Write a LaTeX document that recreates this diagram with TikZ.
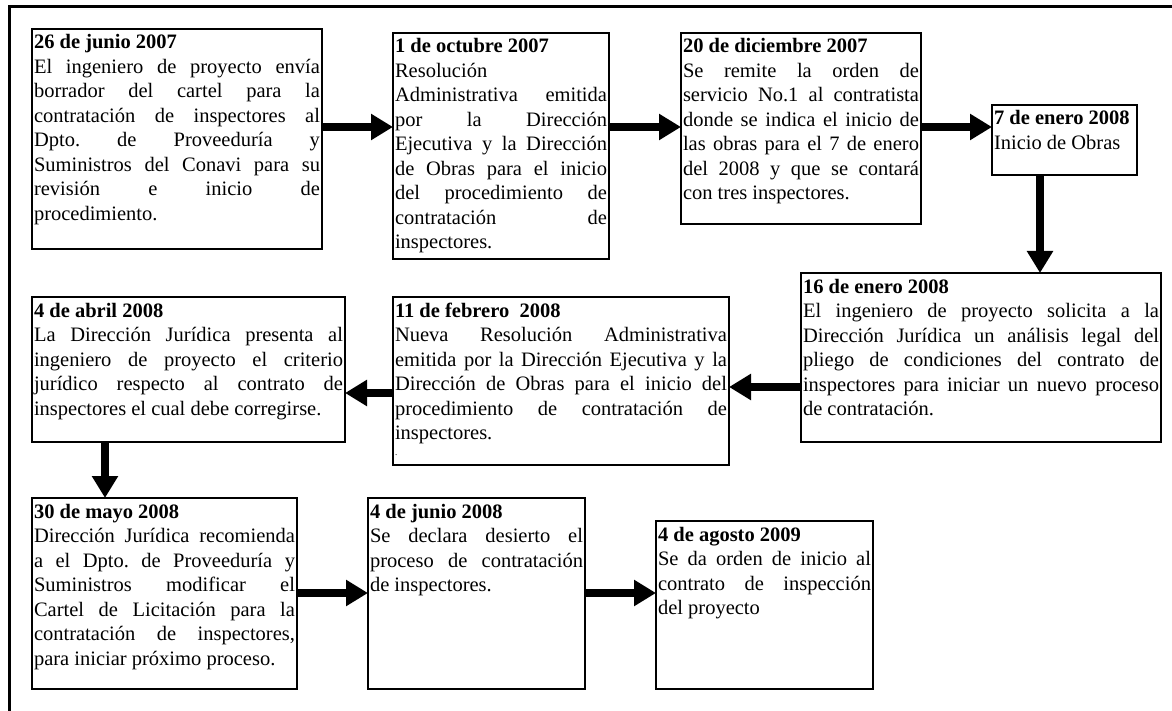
\documentclass[tikz,border=0pt]{standalone}
\usepackage{fontspec}
\setmainfont{Liberation Serif}
\usetikzlibrary{arrows.meta}
\frenchspacing
\newcommand\J[1]{\makebox[\linewidth][s]{#1}\par}
\newcommand\Ln[1]{#1\par}
\newcommand\hd[1]{\rule{0pt}{20pt}\textbf{#1}\par}
\tikzset{
  ev/.style={draw, line width=1.6pt, anchor=north west, inner xsep=2pt, inner ysep=0pt, outer sep=0pt,
    font=\fontsize{20.5pt}{24.5pt}\selectfont\frenchspacing},
  arr/.style={line width=8.5pt, -{Triangle[width=25pt,length=22pt]}},
  frame/.style={line width=3pt}
}
\begin{document}
\begin{tikzpicture}[x=1pt,y=-1pt]
\useasboundingbox (0,0) rectangle (1172,711);
\fill[white] (0,0) rectangle (1172,711);
\draw[frame] (9.5,711) -- (9.5,6.5) -- (1172,6.5);

\node[ev] (b1) at (32,29) {\parbox[c][220pt][t]{286pt}{%
\hd{26 de junio 2007}
\J{El ingeniero de proyecto envía}
\J{borrador del cartel para la}
\J{contratación de inspectores al}
\J{Dpto. de Proveeduría y}
\J{Suministros del Conavi para su}
\J{revisión e inicio de}
\Ln{procedimiento.}}};

\node[ev] (b2) at (393,33) {\parbox[c][226pt][t]{212pt}{%
\hd{1 de octubre 2007}
\Ln{Resolución}
\J{Administrativa emitida}
\J{por la Dirección}
\J{Ejecutiva y la Dirección}
\J{de Obras para el inicio}
\J{del procedimiento de}
\J{contratación de}
\Ln{inspectores.}}};

\node[ev] (b3) at (681,33) {\parbox[c][191pt][t]{236pt}{%
\hd{20 de diciembre 2007}
\J{Se remite la orden de}
\J{servicio No.1 al contratista}
\J{donde se indica el inicio de}
\J{las obras para el 7 de enero}
\J{del 2008 y que se contará}
\Ln{con tres inspectores.}}};

\node[ev] (b4) at (992,105) {\parbox[c][70pt][t]{141pt}{%
\hd{7 de enero 2008}
\Ln{Inicio de Obras}}};

\node[ev] (b5) at (801,273) {\parbox[c][169pt][t]{356pt}{%
\hd{16 de enero 2008}
\J{El ingeniero de proyecto solicita a la}
\J{Dirección Jurídica un análisis legal del}
\J{pliego de condiciones del contrato de}
\J{inspectores para iniciar un nuevo proceso}
\Ln{de contratación.}}};

\node[ev] (b6) at (393,297) {\parbox[c][168pt][t]{332pt}{%
\hd{11 de febrero\ \ 2008}
\J{Nueva Resolución Administrativa}
\J{emitida por la Dirección Ejecutiva y la}
\J{Dirección de Obras para el inicio del}
\J{procedimiento de contratación de}
\Ln{inspectores.}
\vspace{-9pt}{\fontsize{9pt}{9pt}\selectfont .}}};

\node[ev] (b7) at (32,297) {\parbox[c][145pt][t]{309pt}{%
\hd{4 de abril 2008}
\J{La Dirección Jurídica presenta al}
\J{ingeniero de proyecto el criterio}
\J{jurídico respecto al contrato de}
\Ln{inspectores el cual debe corregirse.}}};

\node[ev] (b8) at (32,498) {\parbox[c][191pt][t]{261pt}{%
\hd{30 de mayo 2008}
\J{Dirección Jurídica recomienda}
\J{a el Dpto. de Proveeduría y}
\J{Suministros modificar el}
\J{Cartel de Licitación para la}
\J{contratación de inspectores,}
\Ln{para iniciar próximo proceso.}}};

\node[ev] (b9) at (368,498) {\parbox[c][191pt][t]{213pt}{%
\hd{4 de junio 2008}
\J{Se declara desierto el}
\J{proceso de contratación}
\Ln{de inspectores.}}};

\node[ev] (b10) at (656,521) {\parbox[c][168pt][t]{213pt}{%
\hd{4 de agosto 2009}
\J{Se da orden de inicio al}
\J{contrato de inspección}
\Ln{del proyecto}}};

\coordinate (r1) at (0,127);
\coordinate (c4) at (1040,0);
\coordinate (r5) at (0,387);
\coordinate (r6) at (0,393);
\coordinate (c7) at (105,0);
\coordinate (r8) at (0,593);

\draw[arr] (b1.east |- r1) -- (b2.west |- r1);
\draw[arr] (b2.east |- r1) -- (b3.west |- r1);
\draw[arr] (b3.east |- r1) -- (b4.west |- r1);
\draw[arr] (b4.south -| c4) -- (b5.north -| c4);
\draw[arr] (b5.west |- r5) -- (b6.east |- r5);
\draw[arr] (b6.west |- r6) -- (b7.east |- r6);
\draw[arr] (b7.south -| c7) -- (b8.north -| c7);
\draw[arr] (b8.east |- r8) -- (b9.west |- r8);
\draw[arr] (b9.east |- r8) -- (b10.west |- r8);
\end{tikzpicture}
\end{document}
